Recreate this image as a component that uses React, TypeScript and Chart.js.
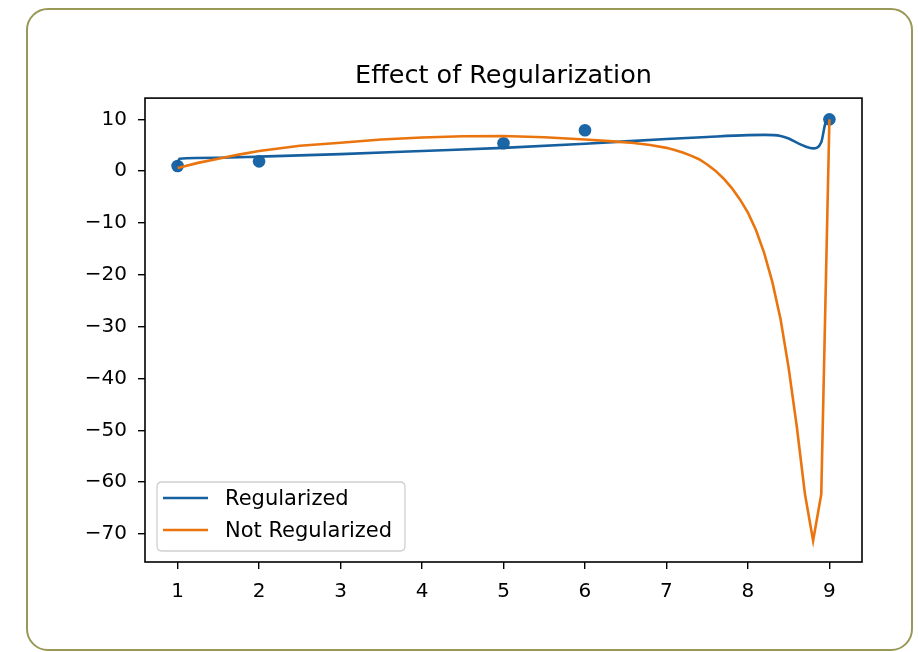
import React, { useEffect, useRef } from "react";
import { Chart, registerables } from "chart.js";

Chart.register(...registerables);

const titleText = "Effect of Regularization";
const seriesLabels = ["Regularized", "Not Regularized"];

const sampleX = [1, 2, 5, 6, 9];
const sampleY = [1.0, 1.9, 5.4, 7.9, 10.0];

const regX = [1.0, 1.02, 1.5, 2.0, 3.0, 4.0, 5.0, 6.0, 7.0, 7.5, 8.0, 8.2, 8.4, 8.5, 8.6, 8.7, 8.8, 8.9, 8.95, 9.0];
const regY = [1.0, 2.4, 2.6, 2.8, 3.3, 3.9, 4.5, 5.3, 6.2, 6.6, 6.95, 7.0, 6.8, 6.3, 5.5, 4.8, 4.4, 5.6, 9.2, 10.0];

const notRegX = [1.0, 1.25, 1.5, 1.75, 2.0, 2.5, 3.0, 3.5, 4.0, 4.5, 5.0, 5.5, 6.0, 6.3, 6.6, 6.8, 7.0, 7.1, 7.2, 7.3, 7.4, 7.5, 7.6, 7.7, 7.8, 7.9, 8.0, 8.1, 8.2, 8.3, 8.4, 8.5, 8.6, 8.7, 8.8, 8.9, 9.0];
const notRegY = [0.6, 1.6, 2.4, 3.2, 3.9, 4.9, 5.5, 6.1, 6.5, 6.75, 6.8, 6.55, 6.1, 5.8, 5.45, 5.05, 4.5, 4.1, 3.6, 3.0, 2.3, 1.3, 0.1, -1.4, -3.2, -5.4, -8.0, -11.4, -15.8, -21.4, -28.5, -38.0, -49.3, -62.3, -71.3, -62.3, 10.0];

const xTicks = [1, 2, 3, 4, 5, 6, 7, 8, 9];
const yTicks = [10, 0, -10, -20, -30, -40, -50, -60, -70];

const BLUE = "#16609f";
const BLUE_DOT = "#1a66a6";
const ORANGE = "#ea740e";
const FONT = '"DejaVu Sans", sans-serif';

const toPoints = (xs: number[], ys: number[]) => xs.map((x, i) => ({ x, y: ys[i] }));

const framePlugin = {
  id: "mplFrame",
  afterDatasetsDraw(chart: any) {
    const { ctx, chartArea } = chart;
    const { left, top, right, bottom } = chartArea;
    ctx.save();
    ctx.strokeStyle = "#000";
    ctx.lineWidth = 1.6;
    ctx.strokeRect(left, top, right - left, bottom - top);
    ctx.restore();
  },
};

const legendPlugin = {
  id: "mplLegend",
  afterDraw(chart: any) {
    const { ctx, chartArea } = chart;
    const { left, bottom } = chartArea;
    const bx = left + 12;
    const by = bottom - 80;
    const bw = 248;
    const bh = 69;
    const r = 5;
    ctx.save();
    ctx.beginPath();
    ctx.moveTo(bx + r, by);
    ctx.lineTo(bx + bw - r, by);
    ctx.quadraticCurveTo(bx + bw, by, bx + bw, by + r);
    ctx.lineTo(bx + bw, by + bh - r);
    ctx.quadraticCurveTo(bx + bw, by + bh, bx + bw - r, by + bh);
    ctx.lineTo(bx + r, by + bh);
    ctx.quadraticCurveTo(bx, by + bh, bx, by + bh - r);
    ctx.lineTo(bx, by + r);
    ctx.quadraticCurveTo(bx, by, bx + r, by);
    ctx.closePath();
    ctx.fillStyle = "rgba(255,255,255,0.85)";
    ctx.fill();
    ctx.strokeStyle = "#cfcfcf";
    ctx.lineWidth = 1.3;
    ctx.stroke();

    const colors = [BLUE, ORANGE];
    const rows = [by + 16, by + 48];
    seriesLabels.forEach((label, i) => {
      const y = rows[i];
      ctx.beginPath();
      ctx.moveTo(bx + 6, y);
      ctx.lineTo(bx + 51, y);
      ctx.strokeStyle = colors[i];
      ctx.lineWidth = 2.6;
      ctx.stroke();
      ctx.fillStyle = "#000";
      ctx.font = `21px ${FONT}`;
      ctx.textBaseline = "middle";
      ctx.textAlign = "left";
      ctx.fillText(label, bx + 68, y + 2);
    });
    ctx.restore();
  },
};

export default function App() {
  const canvasRef = useRef<HTMLCanvasElement | null>(null);

  useEffect(() => {
    const canvas = canvasRef.current;
    if (!canvas) return;
    const chart = new Chart(canvas, {
      type: "line",
      data: {
        datasets: [
          {
            type: "line",
            label: seriesLabels[1],
            data: toPoints(notRegX, notRegY),
            borderColor: ORANGE,
            backgroundColor: ORANGE,
            borderWidth: 2.6,
            pointRadius: 0,
            tension: 0,
            order: 0,
          },
          {
            type: "line",
            label: seriesLabels[0],
            data: toPoints(regX, regY),
            borderColor: BLUE,
            backgroundColor: BLUE,
            borderWidth: 2.6,
            pointRadius: 0,
            cubicInterpolationMode: "monotone",
            order: 1,
          },
          {
            type: "scatter",
            label: "data",
            data: toPoints(sampleX, sampleY),
            backgroundColor: BLUE_DOT,
            borderColor: BLUE_DOT,
            pointRadius: 6.3,
            pointBorderWidth: 0,
            showLine: false,
            order: 2,
          },
        ],
      },
      options: {
        animation: false,
        responsive: false,
        devicePixelRatio: 1,
        layout: { padding: { left: 0, right: 56, top: 0, bottom: 0 } },
        plugins: {
          legend: { display: false },
          tooltip: { enabled: false },
          title: {
            display: true,
            text: titleText,
            fullSize: false,
            color: "#000",
            font: { family: FONT, size: 25.5, weight: "normal" },
            padding: { top: 61.5, bottom: 6 },
          },
        },
        scales: {
          x: {
            type: "linear",
            min: 0.6,
            max: 9.4,
            afterFit: (scale: any) => {
              scale.height = 90;
            },
            afterBuildTicks: (scale: any) => {
              scale.ticks = xTicks.map((v) => ({ value: v }));
            },
            border: { display: false },
            grid: {
              drawOnChartArea: false,
              drawTicks: true,
              tickLength: 7,
              color: "#000",
              lineWidth: 1.4,
            },
            ticks: {
              color: "#000",
              padding: 11,
              maxRotation: 0,
              font: { family: FONT, size: 20 },
              callback: (v: any) => String(v),
            },
          },
          y: {
            type: "linear",
            min: -75.4,
            max: 14.1,
            afterFit: (scale: any) => {
              scale.width = 145;
            },
            afterBuildTicks: (scale: any) => {
              scale.ticks = yTicks.map((v) => ({ value: v }));
            },
            border: { display: false },
            grid: {
              drawOnChartArea: false,
              drawTicks: true,
              tickLength: 7,
              color: "#000",
              lineWidth: 1.4,
            },
            ticks: {
              color: "#000",
              padding: 11,
              font: { family: FONT, size: 20 },
              callback: (v: any) => String(v).replace("-", "\u2212"),
            },
          },
        },
      },
      plugins: [framePlugin, legendPlugin],
    } as any);
    return () => chart.destroy();
  }, []);

  return (
    <div
      style={{
        position: "fixed",
        left: 0,
        top: 0,
        width: 918,
        height: 652,
        background: "#fff",
        overflow: "hidden",
      }}
    >
      <div
        style={{
          position: "absolute",
          left: 26,
          top: 8,
          width: 887,
          height: 643,
          border: "2px solid #9a9858",
          borderRadius: 22,
          boxSizing: "border-box",
        }}
      />
      <canvas
        ref={canvasRef}
        width={918}
        height={652}
        style={{ position: "absolute", left: 0, top: 0, width: 918, height: 652 }}
      />
    </div>
  );
}
